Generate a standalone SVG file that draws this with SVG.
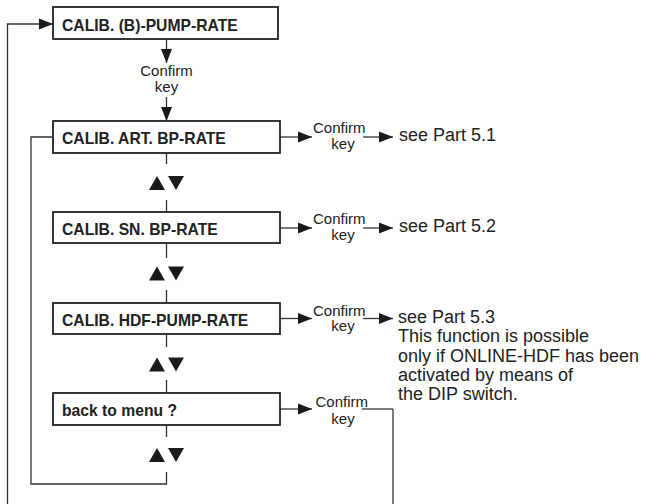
<svg xmlns="http://www.w3.org/2000/svg" width="659" height="504" viewBox="0 0 659 504">
<style>
.box{fill:#fff;stroke:#222;stroke-width:1.8}
.lbl{font-family:"Liberation Sans",Arial,sans-serif;font-weight:bold;font-size:15.7px;fill:#222}
.ck{font-family:"Liberation Sans",Arial,sans-serif;font-size:15px;fill:#222}
.note{font-family:"Liberation Sans",Arial,sans-serif;font-size:18px;fill:#222}
.ln{fill:none;stroke:#333;stroke-width:1.3}
.arr{fill:none;stroke:#333;stroke-width:1.3;marker-end:url(#ah)}
.tri{fill:#1a1a1a}
</style>
<defs>
<marker id="ah" markerUnits="userSpaceOnUse" markerWidth="14" markerHeight="12" refX="14" refY="6" orient="auto">
<path d="M0,0.5 L14,6 L0,11.5 z" fill="#1a1a1a"/>
</marker>
<g id="updown">
<polygon points="149,14 157,0 165,14"/>
<polygon points="168,0 184,0 176,14"/>
</g>
</defs>
<rect width="659" height="504" fill="#fff"/>

<g id="connectors">
<polyline class="arr" points="7.5,515 7.5,24 53,24"/>
<polyline class="ln" points="393,409 393,515"/>
<line class="arr" x1="166.5" y1="39" x2="166.5" y2="63"/>
<text class="ck" x="166.5" y="76" text-anchor="middle">Confirm</text>
<text class="ck" x="166.5" y="91.5" text-anchor="middle">key</text>
<line class="arr" x1="166.5" y1="97" x2="166.5" y2="121"/>
<line class="ln" x1="166.5" y1="153" x2="166.5" y2="164"/>
<use href="#updown" class="tri" y="176"/>
<line class="ln" x1="166.5" y1="200" x2="166.5" y2="212"/>
<line class="ln" x1="166.5" y1="243" x2="166.5" y2="258"/>
<use href="#updown" class="tri" y="266.5"/>
<line class="ln" x1="166.5" y1="290" x2="166.5" y2="303"/>
<line class="ln" x1="166.5" y1="334" x2="166.5" y2="347"/>
<use href="#updown" class="tri" y="357.5"/>
<line class="ln" x1="166.5" y1="380" x2="166.5" y2="393"/>
<line class="ln" x1="166.5" y1="425" x2="166.5" y2="437"/>
<use href="#updown" class="tri" y="448"/>
<polyline class="ln" points="166.5,472 166.5,484 31,484 31,137 53,137"/>

<line class="arr" x1="280" y1="137" x2="312" y2="137"/>
<text class="ck" x="313" y="133">Confirm</text>
<text class="ck" x="343" y="149" text-anchor="middle">key</text>
<line class="arr" x1="363" y1="137" x2="393" y2="137"/>
<text class="note" x="399" y="141">see Part 5.1</text>

<line class="arr" x1="280" y1="228" x2="312" y2="228"/>
<text class="ck" x="313" y="224">Confirm</text>
<text class="ck" x="343" y="240" text-anchor="middle">key</text>
<line class="arr" x1="363" y1="228" x2="393" y2="228"/>
<text class="note" x="399" y="232">see Part 5.2</text>

<line class="arr" x1="280" y1="318.5" x2="312" y2="318.5"/>
<text class="ck" x="313" y="315.5">Confirm</text>
<text class="ck" x="343" y="331" text-anchor="middle">key</text>
<line class="arr" x1="363" y1="318.5" x2="393" y2="318.5"/>
<text class="note" x="398" y="323">see Part 5.3</text>
<text class="note" x="398" y="342">This function is possible</text>
<text class="note" x="398" y="361.5">only if ONLINE-HDF has been</text>
<text class="note" x="398" y="380.5">activated by means of</text>
<text class="note" x="398" y="399.5">the DIP switch.</text>

<line class="arr" x1="280" y1="409" x2="312" y2="409"/>
<text class="ck" x="315.5" y="406.5">Confirm</text>
<text class="ck" x="343" y="423.5" text-anchor="middle">key</text>
<line class="ln" x1="362" y1="409" x2="393" y2="409"/>
</g>

<g id="node-pump">
<rect class="box" x="53" y="7" width="225" height="32"/>
<text class="lbl" x="62" y="30.5">CALIB. (B)-PUMP-RATE</text>
</g>
<g id="node-art">
<rect class="box" x="53" y="121" width="227" height="32"/>
<text class="lbl" x="62" y="144">CALIB. ART. BP-RATE</text>
</g>
<g id="node-sn">
<rect class="box" x="53" y="212" width="227" height="31"/>
<text class="lbl" x="62" y="234.5">CALIB. SN. BP-RATE</text>
</g>
<g id="node-hdf">
<rect class="box" x="53" y="303" width="227" height="31"/>
<text class="lbl" x="62" y="325.5">CALIB. HDF-PUMP-RATE</text>
</g>
<g id="node-back">
<rect class="box" x="53" y="393" width="227" height="32"/>
<text class="lbl" x="62" y="416">back to menu ?</text>
</g>
</svg>
